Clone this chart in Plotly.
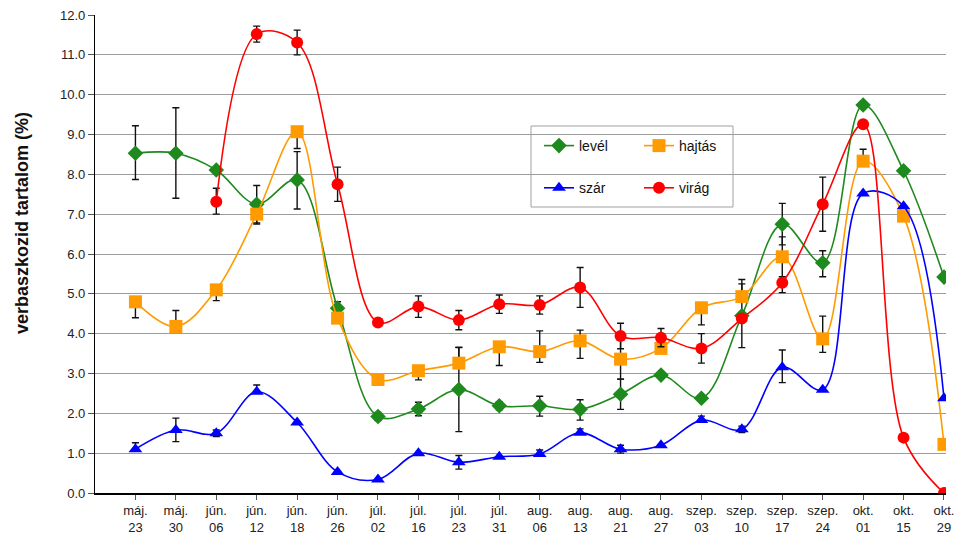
import plotly.graph_objects as go

# Sampling dates (month abbreviation + day)
months = ["máj.", "máj.", "jún.", "jún.", "jún.", "jún.", "júl.", "júl.", "júl.", "júl.",
          "aug.", "aug.", "aug.", "aug.", "szep.", "szep.", "szep.", "szep.", "okt.", "okt.", "okt."]
days = ["23", "30", "06", "12", "18", "26", "02", "16", "23", "31",
        "06", "13", "21", "27", "03", "10", "17", "24", "01", "15", "29"]
dates = [f"{m}<br>{d}" for m, d in zip(months, days)]

# Verbascoside content (%) per plant part
level = [8.53, 8.53, 8.11, 7.25, 7.86, 4.64, 1.92, 2.11, 2.60, 2.19, 2.19,
         2.10, 2.48, 2.96, 2.38, 4.45, 6.75, 5.78, 9.74, 8.09, 5.42]
level_plus = [0.69, 1.14, 0.0, 0.47, 0.71, 0.16, 0.10, 0.17, 1.06, 0.10, 0.24,
              0.24, 0.38, 0.05, 0.08, 0.80, 0.52, 0.30, 0.0, 0.0, 0.0]
level_minus = [0.66, 1.13, 0.0, 0.47, 0.73, 0.16, 0.10, 0.17, 1.06, 0.10, 0.26,
               0.27, 0.38, 0.05, 0.08, 0.80, 0.52, 0.35, 0.0, 0.0, 0.0]

hajtas = [4.80, 4.18, 5.10, 7.00, 9.07, 4.39, 2.85, 3.07, 3.26, 3.67, 3.55,
          3.82, 3.36, 3.63, 4.65, 4.93, 5.93, 3.87, 8.33, 6.95, 1.22]
hajtas_plus = [0.0, 0.40, 0.0, 0.0, 0.0, 0.0, 0.05, 0.0, 0.39, 0.0, 0.52,
               0.27, 0.50, 0.25, 0.0, 0.43, 0.50, 0.57, 0.30, 0.0, 0.0]
hajtas_minus = [0.40, 0.0, 0.27, 0.25, 0.42, 0.0, 0.05, 0.23, 0.0, 0.47, 0.27,
                0.44, 0.50, 0.10, 0.43, 0.0, 0.50, 0.34, 0.0, 0.0, 0.0]

szar = [1.10, 1.58, 1.50, 2.54, 1.77, 0.53, 0.34, 1.00, 0.77, 0.91, 0.98,
        1.51, 1.10, 1.20, 1.83, 1.60, 3.16, 2.59, 7.52, 7.20, 2.38]
szar_plus = [0.16, 0.30, 0.08, 0.17, 0.0, 0.0, 0.0, 0.0, 0.17, 0.0, 0.10,
             0.10, 0.10, 0.0, 0.10, 0.08, 0.43, 0.0, 0.0, 0.0, 0.0]
szar_minus = [0.0, 0.29, 0.08, 0.0, 0.0, 0.0, 0.0, 0.0, 0.17, 0.0, 0.0,
              0.0, 0.10, 0.0, 0.0, 0.08, 0.39, 0.0, 0.0, 0.0, 0.0]

virag = [None, None, 7.31, 11.52, 11.31, 7.75, 4.28, 4.68, 4.34, 4.74, 4.72,
         5.16, 3.94, 3.90, 3.63, 4.38, 5.28, 7.25, 9.26, 1.39, 0.00]
virag_plus = [0, 0, 0.34, 0.20, 0.31, 0.43, 0.05, 0.27, 0.24, 0.23, 0.23,
              0.50, 0.32, 0.23, 0.37, 0.0, 0.0, 0.68, 0.0, 0.0, 0.0]
virag_minus = [0, 0, 0.31, 0.20, 0.31, 0.43, 0.05, 0.27, 0.24, 0.23, 0.23,
               0.50, 0.32, 0.23, 0.37, 0.0, 0.25, 0.68, 0.0, 0.0, 0.0]

series = [
    ("levél", level, level_plus, level_minus, "#1E8A1E", "diamond", 12, "legend"),
    ("hajtás", hajtas, hajtas_plus, hajtas_minus, "#FF9A00", "square", 13, "legend2"),
    ("szár", szar, szar_plus, szar_minus, "#0000FF", "triangle-up", 12, "legend"),
    ("virág", virag, virag_plus, virag_minus, "#FF0000", "circle", 12, "legend2"),
]

fig = go.Figure()
for name, vals, plus, minus, color, symbol, size, leg in series:
    fig.add_trace(go.Scatter(
        x=dates, y=vals, name=name, mode="lines+markers",
        line=dict(color=color, width=1.6, shape="spline", smoothing=1.0),
        marker=dict(color=color, symbol=symbol, size=size, line=dict(width=0)),
        error_y=dict(type="data", symmetric=False, array=plus, arrayminus=minus,
                     color="#111111", thickness=1.4, width=3.5),
        legend=leg, legendgroup=name,
    ))

W, H = 957, 547
ml, mr, mt, mb = 95, 11, 15, 54
pw, ph = W - ml - mr, H - mt - mb


def px(x):
    return (x - ml) / pw


def py(y):
    return (H - mb - y) / ph


legend_style = dict(
    bgcolor="rgba(0,0,0,0)", borderwidth=0, tracegroupgap=21,
    font=dict(family="Liberation Sans, Arial, sans-serif", size=14, color="#111111"),
    itemwidth=30, yanchor="top", xanchor="left",
)

fig.update_layout(
    width=W, height=H,
    margin=dict(l=ml, r=mr, t=mt, b=mb, autoexpand=False),
    paper_bgcolor="white", plot_bgcolor="white",
    font=dict(family="Liberation Sans, Arial, sans-serif", color="#222222"),
    legend=dict(x=px(539), y=py(130), **legend_style),
    legend2=dict(x=px(639), y=py(130), **legend_style),
    shapes=[dict(type="rect", xref="paper", yref="paper",
                 x0=px(531), x1=px(733), y0=py(207), y1=py(126),
                 line=dict(color="#A0A0A0", width=1), fillcolor="rgba(0,0,0,0)",
                 layer="below")],
    annotations=[dict(text="<b>verbaszkozid tartalom (%)</b>", textangle=-90,
                      xref="paper", yref="paper", x=px(22), y=py(223),
                      xanchor="center", yanchor="middle", showarrow=False,
                      font=dict(size=18, color="#111111"))],
)

fig.update_xaxes(
    type="category", categoryorder="array", categoryarray=dates,
    range=[-1, 20.05], showgrid=False, zeroline=False, automargin=False,
    showline=True, linecolor="#000000", linewidth=1.5,
    ticks="outside", ticklen=5, tickcolor="#555555",
    tickfont=dict(size=13, color="#222222"), tickangle=0,
)
fig.update_yaxes(
    range=[0, 12], dtick=1, tickformat=".1f", automargin=False,
    showgrid=True, gridcolor="#9C9C9C", gridwidth=1, zeroline=False,
    showline=True, linecolor="#000000", linewidth=1.2,
    ticks="outside", ticklen=6, tickcolor="#555555",
    tickfont=dict(size=13, color="#222222"),
)

fig.write_html("out.html")
